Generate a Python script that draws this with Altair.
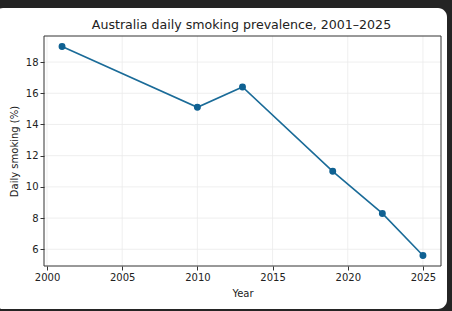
import altair as alt
import pandas as pd

title_text = "Australia daily smoking prevalence, 2001–2025"
years = [2001, 2010, 2013, 2019, 2022.3, 2025]
values = [19.0, 15.1, 16.4, 11.0, 8.3, 5.6]
x_ticks = [2000, 2005, 2010, 2015, 2020, 2025]
y_ticks = [6, 8, 10, 12, 14, 16, 18]

df = pd.DataFrame({"Year": years, "Value": values})
xg = pd.DataFrame({"t": x_ticks})
yg = pd.DataFrame({"t": y_ticks})

W, H = 397, 230
FONT = "DejaVu Sans"
LINE = "#1a6b98"

xscale = alt.Scale(domain=[1999.8, 2026.2], nice=False, zero=False)
yscale = alt.Scale(domain=[4.93, 19.67], nice=False, zero=False)

xaxis = alt.Axis(values=x_ticks, format="d", title="Year", grid=False, domain=False,
                 tickSize=4, tickColor="#333", labelColor="#222", labelFontSize=10,
                 labelPadding=2, titleFontSize=10, titleFontWeight="normal",
                 titleColor="#222", titlePadding=6, labelFont=FONT, titleFont=FONT,
                 zindex=1)
yaxis = alt.Axis(values=y_ticks, format="d", title="Daily smoking (%)", grid=False,
                 domain=False, tickSize=4, tickColor="#333", labelColor="#222",
                 labelFontSize=10, labelPadding=2, titleFontSize=10,
                 titleFontWeight="normal", titleColor="#222", titlePadding=6,
                 labelFont=FONT, titleFont=FONT, zindex=1)

card = alt.Chart(pd.DataFrame({"a": [0]})).mark_rect(
    fill="white", cornerRadius=9
).encode(x=alt.value(-50), x2=alt.value(403), y=alt.value(-28), y2=alt.value(273))

title = alt.Chart(pd.DataFrame({"s": [title_text]})).mark_text(
    font=FONT, fontSize=12.6, color="#222", align="center", baseline="alphabetic"
).encode(text="s:N", x=alt.value(W / 2 - 1), y=alt.value(-7.5))

gridx = alt.Chart(xg).mark_rule(color="#ebebeb", strokeWidth=0.8).encode(
    x=alt.X("t:Q", scale=xscale, axis=xaxis)
)
gridy = alt.Chart(yg).mark_rule(color="#ebebeb", strokeWidth=0.8).encode(
    y=alt.Y("t:Q", scale=yscale, axis=yaxis)
)

line = alt.Chart(df).mark_line(color=LINE, strokeWidth=1.6).encode(
    x=alt.X("Year:Q", scale=xscale, axis=xaxis),
    y=alt.Y("Value:Q", scale=yscale, axis=yaxis),
)
pts = alt.Chart(df).mark_circle(color="#0f6192", opacity=1, size=48).encode(
    x=alt.X("Year:Q", scale=xscale, axis=xaxis),
    y=alt.Y("Value:Q", scale=yscale, axis=yaxis),
)

frame = alt.Chart(pd.DataFrame({"a": [0]})).mark_rect(
    fillOpacity=0, stroke="#333", strokeWidth=1
).encode(x=alt.value(0), x2=alt.value(W), y=alt.value(0), y2=alt.value(H))

chart = alt.layer(card, title, gridx, gridy, line, pts, frame).properties(
    width=W, height=H,
    autosize=alt.AutoSizeParams(type="none"),
    padding={"left": 44, "top": 36, "right": 11, "bottom": 45},
).configure(background="#242424").configure_view(stroke=None, fill=None)

chart.save("out.html", embed_options={"renderer": "svg", "actions": False})
